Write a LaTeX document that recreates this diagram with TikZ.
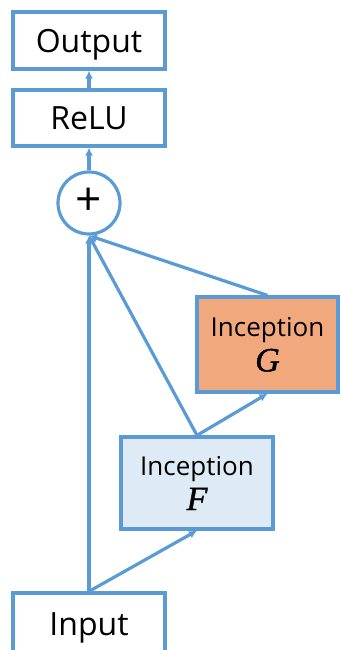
\documentclass[tikz,border=0pt]{standalone}
\usepackage{fontspec}
\setmainfont{Open Sans}
\newfontfamily\letfont[FakeBold=1.2]{Liberation Serif}
\usetikzlibrary{arrows.meta}
\definecolor{edge}{RGB}{91,155,213}
\definecolor{fblue}{RGB}{222,235,247}
\definecolor{gorange}{RGB}{240,168,124}
\begin{document}
\begin{tikzpicture}[x=1pt,y=1pt,
  box/.style={draw=edge,line width=3.2pt,minimum width=152pt,inner sep=0pt,align=center},
  conn/.style={draw=edge,line width=3.2pt,-{Latex[length=8pt,width=8pt]}},
  bigtxt/.style={font=\fontsize{32}{34}\selectfont,text depth=0pt},
  inctxt/.style={font=\fontsize{26}{36}\selectfont}]
\useasboundingbox (0,0) rectangle (341,650);
\node[box,bigtxt,minimum height=57pt] (out) at (89,609.5) {Output};
\node[box,bigtxt,minimum height=56pt] (relu) at (89,532) {ReLU};
\node[draw=edge,line width=3.2pt,circle,minimum size=62pt,inner sep=0pt,font=\fontsize{46}{46}\selectfont] (plus) at (89,447) {\raisebox{2pt}{+}};
\node[box,inctxt,fill=gorange,minimum width=141pt,minimum height=95pt] (G) at (267.5,305.5) {Inception\\[-1pt]{\letfont\itshape\fontsize{34}{34}\selectfont G}};
\node[box,inctxt,fill=fblue,minimum width=152pt,minimum height=92pt] (F) at (197,167) {Inception\\[-1pt]{\letfont\itshape\fontsize{34}{34}\selectfont F}};
\node[box,bigtxt,minimum height=62pt] (in) at (89,26) {Input};
\draw[conn] (relu) -- (out);
\draw[conn] (plus) -- (relu);
\draw[conn] (in.north) -- (plus.south);
\draw[conn] (in.north) -- (F.south);
\draw[conn] (F.north) -- (G.south);
\draw[conn] (F.north) -- (plus.south);
\draw[conn] (G.north) -- (plus.south);
\end{tikzpicture}
\end{document}
